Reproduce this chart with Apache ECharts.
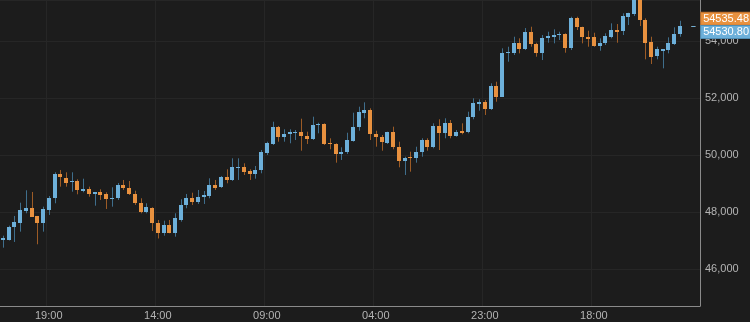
<!DOCTYPE html>
<html>
<head>
<meta charset="utf-8">
<script src="https://cdn.jsdelivr.net/npm/echarts@6/dist/echarts.min.js"></script>
<style>
html,body{margin:0;padding:0;background:#1c1c1c;}
#chart{width:750px;height:322px;}
</style>
</head>
<body>
<div id="chart"></div>
<script>
// Hourly candles, first bar at 11:00
const startHour = 11;
const barCount = 122;
const categories = Array.from({length: barCount}, (_, i) => String((startHour + i) % 24).padStart(2, '0') + ':00');

const opens = [47017,47017,47463,47625,48046,48130,47860,47625,48070,48481,
49323,49182,49042,49088,48737,48807,48642,48691,48642,48456,
48481,48947,48832,48632,48305,48000,48130,47603,47263,47554,
47263,47730,48246,48481,48340,48537,48561,48947,48867,49218,
49123,49533,49568,49428,49333,49474,50060,50386,50972,50621,
50726,50761,50807,50667,50551,51042,51077,50411,50375,50035,
50105,50502,50972,51463,51579,50737,50621,50432,50796,50291,
49800,49940,49905,50105,50526,50270,51018,50761,51133,50667,
50842,50796,51344,51779,51870,51604,52421,52046,53568,53590,
53919,53709,54305,53884,53568,54095,54151,54211,54235,53744,
54818,54502,54130,54130,53825,53919,54151,54386,54361,54853,
54947,55440,54737,53975,53474,53660,53684,53895,54235];
const closes = [47077,47463,47660,48070,48130,47835,47625,48095,48481,49333,
49218,49028,49088,48772,48807,48621,48691,48607,48456,48502,
48947,48832,48632,48305,48000,48186,47603,47263,47554,47253,
47779,48246,48481,48340,48537,48596,48947,48853,49239,49123,
49589,49589,49404,49333,49474,50105,50411,50972,50621,50726,
50807,50796,50667,50551,51053,51088,50386,50375,50025,50105,
50526,50972,51498,51579,50737,50621,50467,50796,50270,49789,
49905,49905,50116,50526,50270,51018,50761,51133,50667,50818,
50782,51344,51814,51870,51604,52421,52046,53590,53625,53919,
53709,54305,53884,53590,54095,54175,54200,54256,53765,54796,
54502,54130,54081,53825,53940,54175,54386,54326,54877,54972,
55440,54737,53940,53449,53709,53709,53919,54246,54530.8];
const lows = [46747,47000,46947,47309,47954,47835,46867,47309,47895,48305,
48888,48888,48712,48621,48691,48537,48221,48421,48105,48186,
48421,48772,48596,48246,47954,47954,47333,47070,47168,47253,
47133,47660,48130,48246,48281,48281,48481,48772,48842,49007,
49088,49123,49298,49123,49168,49358,50000,50351,50467,50467,
50411,50526,50151,50386,50526,50761,50351,50200,49730,49825,
50035,50467,50853,51288,50526,50291,50151,50386,50200,49568,
49298,49414,49730,49940,50151,50235,50175,50586,50586,50642,
50726,50761,51253,51554,51404,51579,51870,52035,53274,53509,
53568,53684,53800,53449,53333,53940,53919,54035,53590,53684,
54386,53919,53800,53800,53660,53860,54095,53940,54211,54561,
54877,54526,53358,53193,53358,53042,53568,53860,54151];
const highs = [47168,47519,47860,48326,48761,48702,47860,48186,48561,49393,
49474,49393,49393,49147,49168,48888,48691,48796,48691,48867,
49018,49123,49088,48747,48481,48305,48165,47719,47695,47719,
47954,48446,48632,48677,48772,48737,49182,49123,49263,49498,
49884,49884,49709,49498,49614,50175,50467,51168,51018,50902,
50902,50877,51274,50818,51344,51133,51112,50586,50411,50270,
50782,51484,51695,51849,51639,50853,50702,50818,50993,50467,
49940,50116,50291,50586,50586,51112,51253,51288,51228,50877,
51112,51519,51989,51954,51930,52516,52572,53744,53800,54151,
54095,54456,54502,53940,54211,54326,54411,54326,54270,54853,
54853,54502,54361,54291,54095,54270,54621,54597,54972,54993,
55440,55440,54796,54151,53800,53709,54130,54481,54712];

// Current price markers
const lastPrices = [54535.48, 54530.80];

const UP_BODY = '#6db0da', UP_WICK = '#3f6e8c';
const DN_BODY = '#e8913f', DN_WICK = '#9c5b26';

const candleData = opens.map((o, i) => [i, o, closes[i], lows[i], highs[i]]);

const chart = echarts.init(document.getElementById('chart'), null, {renderer: 'canvas'});
const labelInterval = (idx) => idx % 19 === 8;
const FONT = 'Liberation Sans, Arial, sans-serif';

chart.setOption({
  backgroundColor: '#1c1c1c',
  animation: false,
  grid: {left: 0, right: 50, top: 0, bottom: 16, containLabel: false},
  xAxis: {
    type: 'category',
    data: categories,
    boundaryGap: true,
    axisLine: {show: true, lineStyle: {color: '#8a8a8a', width: 1}},
    axisTick: {show: false},
    axisLabel: {color: '#b4b4b4', fontSize: 11, fontFamily: FONT, margin: 4, interval: labelInterval},
    splitLine: {show: true, interval: labelInterval, lineStyle: {color: '#262626', width: 1}}
  },
  yAxis: {
    type: 'value',
    position: 'right',
    min: 44700,
    max: 55440,
    splitNumber: 5,
    axisLine: {show: true, lineStyle: {color: '#8a8a8a', width: 1}},
    axisTick: {show: false},
    axisLabel: {color: '#b4b4b4', fontSize: 11, fontFamily: FONT, margin: 5, showMinLabel: false, showMaxLabel: false},
    splitLine: {show: true, lineStyle: {color: '#262626', width: 1}}
  },
  series: [{
    type: 'custom',
    clip: true,
    data: candleData,
    encode: {x: 0, y: [1, 2, 3, 4]},
    renderItem: function (params, api) {
      const idx = api.value(0);
      const o = api.value(1), c = api.value(2), l = api.value(3), h = api.value(4);
      const up = c >= o;
      const pO = api.coord([idx, o]);
      const pC = api.coord([idx, c]);
      const pL = api.coord([idx, l]);
      const pH = api.coord([idx, h]);
      const band = api.size([1, 0])[0];
      const w = Math.max(3, Math.round(band * 0.72));
      const xc = Math.round(pO[0]);
      const top = Math.round(Math.min(pO[1], pC[1]));
      const bot = Math.round(Math.max(pO[1], pC[1]));
      const bh = Math.max(1, bot - top);
      return {
        type: 'group',
        children: [
          {type: 'line', shape: {x1: xc + 0.5, y1: pH[1], x2: xc + 0.5, y2: pL[1]},
            style: {stroke: up ? UP_WICK : DN_WICK, lineWidth: 1}},
          {type: 'rect', shape: {x: xc - Math.floor(w / 2) + 0.5 - 0.5, y: top, width: w, height: bh},
            style: {fill: up ? UP_BODY : DN_BODY}}
        ]
      };
    },
    markLine: {
      silent: true,
      symbol: ['none', 'none'],
      animation: false,
      data: [
        [
          {coord: [120, lastPrices[0]], lineStyle: {color: DN_BODY, type: 'dashed', width: 1},
            label: {show: true, position: 'end', distance: 4, offset: [0, -7], formatter: String(lastPrices[0].toFixed(2)),
              backgroundColor: DN_BODY, borderColor: '#b86d2c', borderWidth: 1, color: '#ffffff', fontSize: 11, fontFamily: FONT, padding: [1, 2, 0, 2]}},
          {coord: [121, lastPrices[0]]}
        ],
        [
          {coord: [120, lastPrices[1]], lineStyle: {color: UP_BODY, type: 'dashed', width: 1},
            label: {show: true, position: 'end', distance: 4, offset: [0, 6], formatter: String(lastPrices[1].toFixed(2)),
              backgroundColor: UP_BODY, borderColor: '#4f8db3', borderWidth: 1, color: '#ffffff', fontSize: 11, fontFamily: FONT, padding: [1, 2, 0, 2]}},
          {coord: [121, lastPrices[1]]}
        ]
      ]
    }
  }]
});
</script>
</body>
</html>
